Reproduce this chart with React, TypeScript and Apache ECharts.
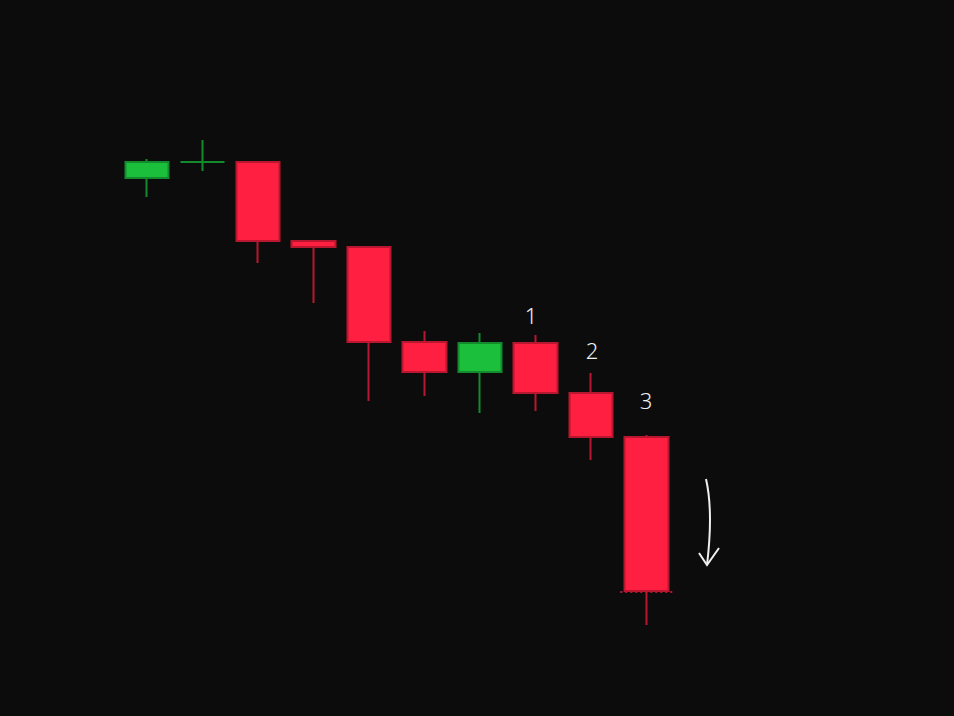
import React, { useEffect, useRef } from "react";
import * as echarts from "echarts";

// Candles: [open, close, lowest, highest]
const categories = ["1", "2", "3", "4", "5", "6", "7", "8", "9", "10"];
const opens = [53.8, 55.4, 55.4, 47.5, 46.9, 37.4, 34.4, 37.3, 32.3, 27.9];
const closes = [55.4, 55.4, 47.5, 46.9, 37.4, 34.4, 37.3, 32.3, 27.9, 12.5];
const lows = [51.9, 54.5, 45.3, 41.3, 31.5, 32.0, 30.3, 30.5, 25.6, 9.1];
const highs = [55.7, 57.6, 55.4, 47.5, 46.9, 38.5, 38.3, 38.1, 34.3, 28.1];
const annotations = [
  { label: "1", x: 531, y: 315 },
  { label: "2", x: 592, y: 350 },
  { label: "3", x: 646, y: 400 },
];

export default function App() {
  const ref = useRef<HTMLDivElement>(null);
  useEffect(() => {
    if (!ref.current) return;
    const chart = echarts.init(ref.current, null, { renderer: "svg" });
    const data = categories.map((_, i) => [opens[i], closes[i], lows[i], highs[i]]);
    chart.setOption({
      animation: false,
      backgroundColor: "#0c0c0c",
      grid: { left: 119, right: 280, top: 0, bottom: 0 },
      xAxis: {
        type: "category",
        data: categories,
        show: false,
        boundaryGap: true,
      },
      yAxis: {
        type: "value",
        min: 0,
        max: 71.6,
        show: false,
        splitLine: { show: false },
      },
      series: [
        {
          type: "candlestick",
          data,
          barWidth: 44,
          itemStyle: {
            color: "#1cbf3c",
            color0: "#ff1f40",
            borderColor: "#138a2c",
            borderColor0: "#b8172f",
            borderWidth: 2,
          },
        },
      ],
    });
    const last = categories.length - 1;
    const p = chart.convertToPixel({ gridIndex: 0 }, [last, closes[last]]) as number[];
    chart.setOption({
      graphic: [
        {
          type: "line",
          shape: { x1: p[0] - 26, y1: p[1] + 1, x2: p[0] + 26, y2: p[1] + 1 },
          style: { stroke: "#b8172f", lineWidth: 2, lineDash: [2, 3] },
          z: 10,
        },
        ...annotations.map((a) => ({
          type: "text",
          x: a.x,
          y: a.y,
          style: {
            text: a.label,
            fill: "#f0f0f0",
            font: "300 22px 'Noto Sans'",
            align: "center",
            verticalAlign: "middle",
          },
        })),
        {
          type: "bezierCurve",
          shape: { x1: 706, y1: 479, x2: 707, y2: 565, cpx1: 712, cpy1: 505, cpx2: 710, cpy2: 540 },
          style: { stroke: "#f0f0f0", lineWidth: 2, fill: "none" },
        },
        {
          type: "polyline",
          shape: { points: [[699, 553], [707, 565], [719, 548]] },
          style: { stroke: "#f0f0f0", lineWidth: 2, fill: "none" },
        },
      ],
    });
    return () => chart.dispose();
  }, []);
  return (
    <div
      ref={ref}
      style={{ position: "fixed", left: 0, top: 0, width: 954, height: 716 }}
    />
  );
}
